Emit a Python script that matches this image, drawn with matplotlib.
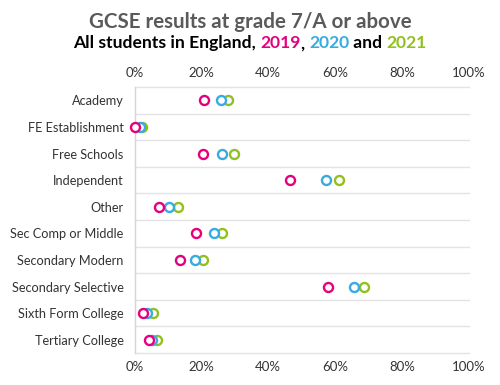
import numpy as np
import matplotlib.pyplot as plt

plt.rcParams['font.family'] = ['Lato', 'DejaVu Sans']

# school types, top to bottom
categories = ['Academy', 'FE Establishment', 'Free Schools', 'Independent', 'Other',
              'Sec Comp or Middle', 'Secondary Modern', 'Secondary Selective',
              'Sixth Form College', 'Tertiary College']

# % of grades at 7/A or above
y2019 = [20.7, 0.1, 20.6, 46.6, 7.3, 18.5, 13.7, 57.8, 2.5, 4.2]
y2020 = [25.8, 1.6, 26.2, 57.3, 10.4, 23.7, 18.0, 65.7, 3.6, 5.3]
y2021 = [28.0, 2.2, 29.7, 61.1, 13.0, 26.1, 20.5, 68.5, 5.6, 6.6]

xticks = [0, 20, 40, 60, 80, 100]
xticklabels = ['0%', '20%', '40%', '60%', '80%', '100%']

pink = '#E6007E'
blue = '#36ACE2'
green = '#93C01F'

fig = plt.figure(figsize=(5, 3.85), dpi=100)
ax = fig.add_axes([0.269, 0.083, 0.669, 0.691])

ypos = np.arange(len(categories))

# draw 2021 first so 2019 sits on top
for vals, col in [(y2021, green), (y2020, blue), (y2019, pink)]:
    ax.plot(vals, ypos, linestyle='none', marker='o', markersize=6.5,
            markerfacecolor='white', markeredgecolor=col, markeredgewidth=1.7,
            clip_on=False, zorder=3)

ax.set_xlim(0, 100)
ax.set_ylim(len(categories) - 0.5, -0.5)

# row separators
for b in np.arange(-0.5, len(categories), 1):
    ax.axhline(b, color='#e3e3e3', lw=1, clip_on=False, zorder=1)

for s in ['top', 'right', 'bottom']:
    ax.spines[s].set_visible(False)
ax.spines['left'].set_color('#d6d6d6')
ax.spines['left'].set_linewidth(1)

ax.set_yticks(ypos)
ax.set_yticklabels(categories, fontsize=9.2, color='#333333')
ax.set_xticks(xticks)
ax.set_xticklabels(xticklabels, fontsize=9.5, color='#333333')
ax.tick_params(axis='both', length=0)
ax.tick_params(axis='y', pad=8)
ax.tick_params(axis='x', pad=6, labeltop=True, labelbottom=True)

fig.text(0.5, 0.943, 'GCSE results at grade 7/A or above', ha='center', va='center',
         fontsize=14.8, fontweight='bold', color='#5a5a5a')

# subtitle with coloured years
parts = [('All students in England, ', 'black'), ('2019', pink), (', ', 'black'),
         ('2020', blue), (' and ', 'black'), ('2021', green)]
fig.canvas.draw()
renderer = fig.canvas.get_renderer()
texts = []
widths = []
for s, c in parts:
    t = fig.text(0, 0.888, s, ha='left', va='center', fontsize=12.6,
                 fontweight='bold', color=c)
    bb = t.get_window_extent(renderer=renderer)
    texts.append(t)
    widths.append(bb.width)
total = sum(widths)
x = (fig.bbox.width - total) / 2
for t, w in zip(texts, widths):
    t.set_x(x / fig.bbox.width)
    x += w

fig.savefig('out.png', dpi=100)
